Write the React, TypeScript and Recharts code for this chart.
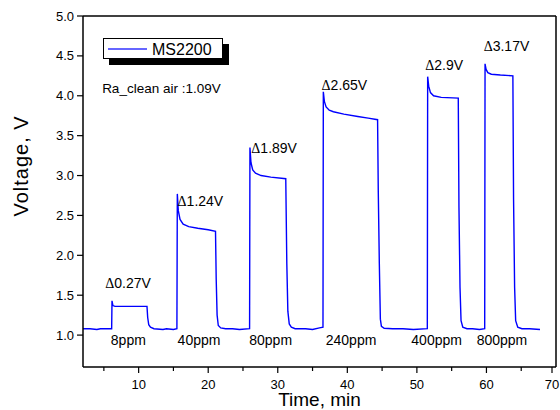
import React from "react";
import { LineChart, Line, XAxis, YAxis, ReferenceLine, ReferenceDot } from "recharts";

const baseline0: [number, number][] = [
  [2.0, 1.08], [3.0, 1.08], [4.0, 1.07], [4.5, 1.08], [5.5, 1.08], [6.12, 1.08],
];
const pulse8: [number, number][] = [
  [6.17, 1.43], [6.3, 1.37], [6.6, 1.36], [8.5, 1.36], [11.2, 1.36],
  [11.3, 1.22], [11.45, 1.13], [11.7, 1.1], [12.2, 1.08], [13.5, 1.07], [14.0, 1.08], [15.0, 1.07], [15.5, 1.08],
];
const pulse40: [number, number][] = [
  [15.56, 2.77], [15.7, 2.56], [15.95, 2.45], [16.4, 2.39], [17.2, 2.36], [18.5, 2.34], [20.0, 2.32], [21.05, 2.3],
  [21.15, 1.7], [21.28, 1.25], [21.45, 1.12], [21.8, 1.09], [22.5, 1.08], [23.5, 1.08], [24.5, 1.07], [25.95, 1.08],
];
const pulse80: [number, number][] = [
  [26.0, 3.35], [26.15, 3.16], [26.4, 3.07], [26.8, 3.03], [27.6, 3.0], [29.0, 2.98], [31.15, 2.96],
  [31.3, 1.9], [31.45, 1.3], [31.65, 1.14], [31.95, 1.1], [32.5, 1.08], [34.0, 1.08], [35.0, 1.07], [36.0, 1.09], [36.5, 1.1],
];
const pulse240: [number, number][] = [
  [36.55, 4.05], [36.7, 3.93], [36.95, 3.86], [37.4, 3.82], [38.0, 3.8], [39.5, 3.77], [41.5, 3.74], [43.0, 3.72], [44.35, 3.7],
  [44.45, 2.8], [44.6, 1.9], [44.75, 1.2], [44.9, 1.11], [45.3, 1.085], [46.5, 1.08], [48.0, 1.08], [49.5, 1.07], [51.5, 1.08],
];
const pulse400: [number, number][] = [
  [51.55, 4.24], [51.7, 4.12], [51.95, 4.04], [52.4, 4.0], [53.5, 3.98], [55.95, 3.97],
  [56.05, 2.6], [56.2, 1.6], [56.35, 1.18], [56.6, 1.1], [57.2, 1.08], [58.0, 1.08], [59.0, 1.07], [59.75, 1.08],
];
const pulse800: [number, number][] = [
  [59.8, 4.4], [59.95, 4.33], [60.2, 4.29], [60.7, 4.27], [62.0, 4.26], [63.8, 4.25],
  [63.9, 2.7], [64.05, 1.6], [64.2, 1.18], [64.5, 1.1], [65.1, 1.08], [66.2, 1.08], [67.7, 1.07],
];

const segments = [baseline0, pulse8, pulse40, pulse80, pulse240, pulse400, pulse800];
const data = segments.flat().map(([t, v]) => ({ t, v }));

const xTicks = [5, 10, 15, 20, 25, 30, 35, 40, 45, 50, 55, 60, 65, 70];
const xLabeled = [10, 20, 30, 40, 50, 60, 70];
const yTicks = [0.75, 1.0, 1.25, 1.5, 1.75, 2.0, 2.25, 2.5, 2.75, 3.0, 3.25, 3.5, 3.75, 4.0, 4.25, 4.5, 4.75, 5.0];

const deltaLabels = [
  { t: 5.2, v: 1.59, text: "0.27V" },
  { t: 15.6, v: 2.62, text: "1.24V" },
  { t: 26.2, v: 3.28, text: "1.89V" },
  { t: 36.3, v: 4.07, text: "2.65V" },
  { t: 51.2, v: 4.32, text: "2.9V" },
  { t: 59.6, v: 4.56, text: "3.17V" },
];
const ppmLabels = [
  { t: 6.0, v: 0.875, text: "8ppm" },
  { t: 15.6, v: 0.875, text: "40ppm" },
  { t: 25.9, v: 0.875, text: "80ppm" },
  { t: 36.9, v: 0.875, text: "240ppm" },
  { t: 49.2, v: 0.875, text: "400ppm" },
  { t: 58.6, v: 0.875, text: "800ppm" },
];
const noteLabel = { t: 4.75, v: 4.03, text: "Ra_clean air :1.09V" };
const seriesName = "MS2200";

const FONT = "'Liberation Sans', Arial, sans-serif";

const YTick = (props: any) => {
  const { x, y, payload } = props;
  const major = Math.abs(payload.value * 2 - Math.round(payload.value * 2)) < 1e-6;
  return (
    <g>
      <line x1={x - (major ? 6 : 4)} x2={x} y1={y} y2={y} stroke="#000" strokeWidth={1.2} />
      {major && (
        <text x={x - 9} y={y} dy={4.5} textAnchor="end" fontSize={13} fontFamily={FONT} fill="#000">
          {payload.value.toFixed(1)}
        </text>
      )}
    </g>
  );
};

const XTick = (props: any) => {
  const { x, y, payload } = props;
  const major = xLabeled.includes(payload.value);
  return (
    <g>
      <line x1={x} x2={x} y1={y} y2={y + (major ? 6 : 4)} stroke="#000" strokeWidth={1.2} />
      {major && (
        <text x={x} y={y + 22} textAnchor="middle" fontSize={13} fontFamily={FONT} fill="#000">
          {payload.value}
        </text>
      )}
    </g>
  );
};

const textLabel = (text: string, delta: boolean) => (props: any) => {
  const { viewBox } = props;
  return (
    <text x={viewBox.x} y={viewBox.y} fontSize={14} fontFamily={FONT} fill="#000">
      {delta && <tspan fontFamily="'Liberation Serif', 'Times New Roman', serif">Δ</tspan>}
      <tspan>{text}</tspan>
    </text>
  );
};

const YTitle = () => (
  <text x={28} y={166} transform="rotate(-90 28 166)" textAnchor="middle" fontSize={20} letterSpacing={1} fontFamily={FONT} fill="#000">
    Voltage, V
  </text>
);

const XTitle = (props: any) => {
  const { viewBox } = props;
  const cx = viewBox.x + viewBox.width / 2;
  return (
    <text x={cx} y={406} textAnchor="middle" fontSize={19} fontFamily={FONT} fill="#000">
      Time, min
    </text>
  );
};

export default function App() {
  return (
    <div style={{ position: "absolute", left: 0, top: 0, width: 560, height: 410 }}>
      <LineChart
        width={560}
        height={410}
        data={data}
        margin={{ top: 16, right: 4, left: 0, bottom: 0 }}
      >
        <XAxis
          dataKey="t"
          type="number"
          domain={[2, 70]}
          ticks={xTicks}
          allowDataOverflow
          tick={<XTick />}
          tickLine={false}
          tickSize={0}
          tickMargin={0}
          height={43}
          axisLine={{ stroke: "#000", strokeWidth: 1.5 }}
          label={<XTitle />}
        />
        <YAxis
          type="number"
          domain={[0.6, 5.0]}
          ticks={yTicks}
          allowDataOverflow
          tick={<YTick />}
          tickLine={false}
          tickSize={0}
          tickMargin={0}
          width={83}
          axisLine={{ stroke: "#000", strokeWidth: 1.5 }}
          label={<YTitle />}
        />
        <ReferenceLine y={5.0} stroke="#000" strokeWidth={1.5} />
        <ReferenceLine x={70} stroke="#000" strokeWidth={1.5} />
        <Line
          type="linear"
          dataKey="v"
          name={seriesName}
          stroke="#0000ff"
          strokeWidth={1.4}
          dot={false}
          isAnimationActive={false}
        />
        {deltaLabels.map((d, i) => (
          <ReferenceDot key={"d" + i} x={d.t} y={d.v} r={0} fill="none" stroke="none" label={textLabel(d.text, true)} />
        ))}
        {ppmLabels.map((d, i) => (
          <ReferenceDot key={"p" + i} x={d.t} y={d.v} r={0} fill="none" stroke="none" label={textLabel(d.text, false)} />
        ))}
        <ReferenceDot x={noteLabel.t} y={noteLabel.v} r={0} fill="none" stroke="none" label={(p: any) => (
          <text x={p.viewBox.x} y={p.viewBox.y} fontSize={13.5} fontFamily={FONT} fill="#000">{noteLabel.text}</text>
        )} />
      </LineChart>
      <svg width={130} height={30} style={{ position: "absolute", left: 103, top: 38 }}>
        <rect x={6} y={6} width={120} height={21} fill="#000" />
        <rect x={0.5} y={0.5} width={119} height={20} fill="#fff" stroke="#000" strokeWidth={1} />
        <line x1={5} x2={44} y1={11} y2={11} stroke="#3333ff" strokeWidth={1.5} />
        <text x={49} y={17} fontSize={16} fontFamily={FONT} fill="#000">{seriesName}</text>
      </svg>
    </div>
  );
}
